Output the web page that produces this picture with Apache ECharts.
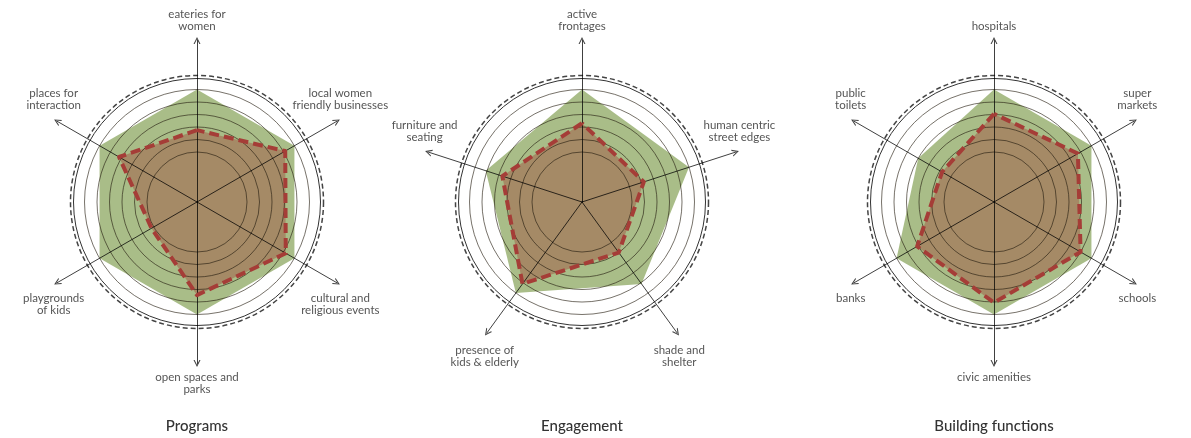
<!DOCTYPE html>
<html><head><meta charset="utf-8">
<script src="https://cdn.jsdelivr.net/npm/echarts@6/dist/echarts.min.js"></script>
<style>html,body{margin:0;padding:0;background:#fff}#c{width:1191px;height:438px}</style>
</head><body><div id="c"></div>
<script>
// ---- data (indicators listed counter-clockwise from the top) ----
const programsAxes = ['eateries for\nwomen', 'places for\ninteraction', 'playgrounds\nof kids', 'open spaces and\nparks', 'cultural and\nreligious events', 'local women\nfriendly businesses'];
const programsPotential = [9, 9, 9, 9, 9, 9];
const programsExisting = [5.75, 7.2, 4.2, 7.45, 8.2, 8.15];

const engagementAxes = ['active\nfrontages', 'furniture and\nseating', 'presence of\nkids & elderly', 'shade and\nshelter', 'human centric\nstreet edges'];
const engagementPotential = [9, 8.1, 9, 8.1, 9];
const engagementExisting = [6.3, 6.7, 8.1, 5.0, 5.2];

const buildingAxes = ['hospitals', 'public\ntoilets', 'banks', 'civic amenities', 'schools', 'super\nmarkets'];
const buildingPotential = [9, 7.0, 9, 9, 9, 9];
const buildingExisting = [7.05, 4.8, 7.1, 8.05, 8.0, 7.75];

const chartTitles = ['Programs', 'Engagement', 'Building functions'];
const scaleMax = 9;
const scaleSplits = 9;

// ---- layout / style ----
const charts = [
  {axes: programsAxes, pot: programsPotential, ex: programsExisting, center: [197, 202]},
  {axes: engagementAxes, pot: engagementPotential, ex: engagementExisting, center: [582, 202]},
  {axes: buildingAxes, pot: buildingPotential, ex: buildingExisting, center: [994, 202]}
];
const R = 112.5, R_OUT = 123.5, R_DASH = 126.5, R_AXIS = 161.5, R_NAME = 165.5;
const FONT = 'Lato, "Noto Sans", sans-serif';
const ARROW = 'path://M0,10 L5,0 L10,10 L8.4,10 L5,3.2 L1.6,10 Z';

const radars = [], series = [], graphics = [];

function base(center, radius, n, names) {
  return {
    center: center, radius: radius, startAngle: 90, shape: 'circle', splitNumber: 1,
    indicator: names.map(nm => ({name: nm, min: 0, max: scaleMax})),
    axisName: {show: false}, axisNameGap: 0,
    axisLine: {show: false}, axisTick: {show: false}, axisLabel: {show: false},
    splitLine: {show: false}, splitArea: {show: false}, silent: true
  };
}
function kind(i, n) {
  const a = (90 + i * 360 / n) * Math.PI / 180;
  const s = Math.sin(a);
  if (s > 0.95) return 'top';
  if (s < -0.95) return 'bottom';
  return s > 0 ? 'upper' : 'lower';
}
const nameGroups = {
  top: {va: 'bottom', pad: [0, 0, 4, 0]},
  upper: {va: 'bottom', pad: [0, 0, 8, 0]},
  lower: {va: 'top', pad: [8, 0, 0, 0]},
  bottom: {va: 'top', pad: [4, 0, 0, 0]}
};

charts.forEach((c, ci) => {
  const n = c.axes.length;
  const blank = c.axes.map(() => '');
  // value grid (circles 50..112.5 visible), drawn above the filled areas
  const grid = base(c.center, R, n, blank);
  grid.splitNumber = scaleSplits;
  const cols = [];
  for (let k = 0; k <= scaleSplits; k++) cols.push(k >= 4 ? 'rgba(35,28,15,0.62)' : 'rgba(0,0,0,0)');
  grid.splitLine = {show: true, lineStyle: {color: cols, width: 1}};
  grid.z = 3;
  const gridIdx = radars.length; radars.push(grid);
  // outer solid circle
  const out = base(c.center, R_OUT, n, blank);
  out.splitLine = {show: true, lineStyle: {color: ['rgba(0,0,0,0)', '#333'], width: 1}};
  out.z = 3; radars.push(out);
  // outer dashed circle
  const dash = base(c.center, R_DASH, n, blank);
  dash.splitLine = {show: true, lineStyle: {color: ['rgba(0,0,0,0)', '#444'], width: 1.5, type: [5, 3]}};
  dash.z = 3; radars.push(dash);
  // spokes with arrow heads
  const ax = base(c.center, R_AXIS, n, blank);
  ax.axisLine = {show: true, symbol: ['none', ARROW], symbolSize: [10, 7],
    lineStyle: {color: 'rgba(0,0,0,0.75)', width: 1}};
  ax.z = 3; radars.push(ax);
  // axis names, one radar per placement group
  Object.keys(nameGroups).forEach(g => {
    const names = c.axes.map((nm, i) => kind(i, n) === g ? nm : '');
    if (names.every(s => s === '')) return;
    const r = base(c.center, R_NAME, n, names);
    r.axisName = {show: true, color: '#555', fontFamily: FONT, fontSize: 11.5, lineHeight: 12,
      align: 'center', verticalAlign: nameGroups[g].va, padding: nameGroups[g].pad};
    r.z = 3; radars.push(r);
  });
  series.push({type: 'radar', radarIndex: gridIdx, z: 1, symbol: 'none', silent: true,
    lineStyle: {opacity: 0}, areaStyle: {color: '#a9bd88', opacity: 1}, data: [{value: c.pot}]});
  series.push({type: 'radar', radarIndex: gridIdx, z: 2, symbol: 'none', silent: true,
    lineStyle: {opacity: 0}, areaStyle: {color: '#a58a66', opacity: 1}, data: [{value: c.ex}]});
  series.push({type: 'radar', radarIndex: gridIdx, z: 4, symbol: 'none', silent: true,
    lineStyle: {color: '#a53d37', width: 4, type: [10, 5]}, data: [{value: c.ex}]});
  graphics.push({type: 'text', x: c.center[0], y: 426, silent: true,
    style: {text: chartTitles[ci], fill: '#333', font: '500 15px ' + FONT, align: 'center', verticalAlign: 'middle'}});
});

const chart = echarts.init(document.getElementById('c'), null, {renderer: 'canvas'});
chart.setOption({animation: false, backgroundColor: '#fff', radar: radars, series: series, graphic: graphics});
</script></body></html>
